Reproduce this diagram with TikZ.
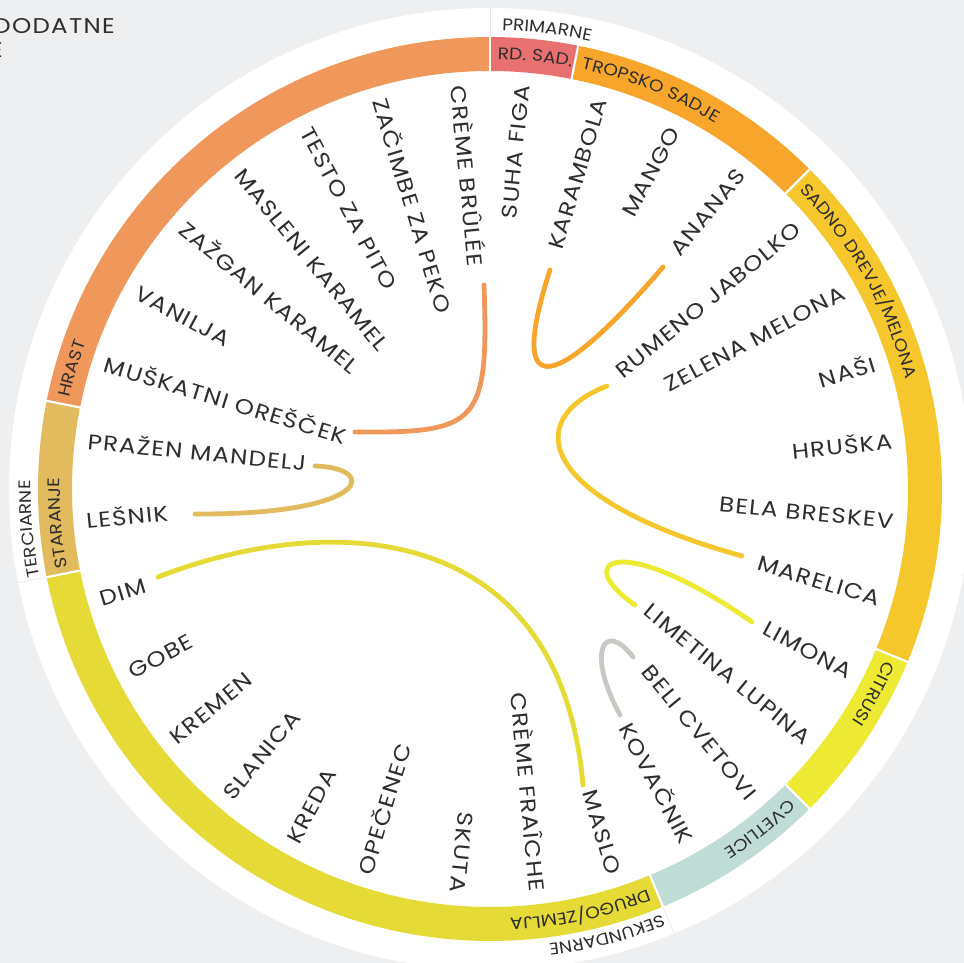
\documentclass[tikz,border=0pt]{standalone}
\usepackage{fontspec}
\setmainfont{Poppins}
\newfontfamily\labfont[FakeStretch=1.15,LetterSpace=6]{Poppins}
\newfontfamily\ringfont[FakeStretch=1.12,LetterSpace=4]{Poppins}
\usetikzlibrary{decorations.text}

\definecolor{bg}{HTML}{EEEFF1}
\definecolor{sepgray}{HTML}{E6E7E9}
\definecolor{ink}{HTML}{2E2E2E}
\definecolor{rdsad}{HTML}{E97070}
\definecolor{tropsko}{HTML}{F8A62B}
\definecolor{sadno}{HTML}{F6C72D}
\definecolor{citrusi}{HTML}{EEE932}
\definecolor{cvetlice}{HTML}{BFDCD7}
\definecolor{drugo}{HTML}{E6DB36}
\definecolor{staranje}{HTML}{E2BB5F}
\definecolor{hrast}{HTML}{F0985B}
\definecolor{cvetline}{HTML}{C9C9C4}

\begin{document}
\begin{tikzpicture}[x=0.75pt,y=0.75pt]
\tikzstyle{every node}=[inner sep=0pt, text=ink, font=\labfont\fontsize{16}{19}\selectfont]
\tikzstyle{rlab}=[anchor=base east]
\tikzstyle{llab}=[anchor=base west]
\tikzstyle{link}=[line width=3.6pt, line cap=round]
\tikzset{ringtxt/.style={decorate, decoration={text along path, text color=ink,
  text={|\ringfont\fontsize{12.5}{14}\selectfont|#1}}}}

\useasboundingbox (-490,-474) rectangle (474,489);
\clip (-490,-474) rectangle (474,489);
\fill[bg] (-490,-474) rectangle (474,489);
\fill[white] (0,0) circle (481);

% ring
\fill[rdsad] (90:418) arc[start angle=90, end angle=78.75, radius=418] -- (78.75:452) arc[start angle=78.75, end angle=90, radius=452] -- cycle;
\fill[tropsko] (78.75:418) arc[start angle=78.75, end angle=45, radius=418] -- (45:452) arc[start angle=45, end angle=78.75, radius=452] -- cycle;
\fill[sadno] (45:418) arc[start angle=45, end angle=-22.5, radius=418] -- (-22.5:452) arc[start angle=-22.5, end angle=45, radius=452] -- cycle;
\fill[citrusi] (-22.5:418) arc[start angle=-22.5, end angle=-45, radius=418] -- (-45:452) arc[start angle=-45, end angle=-22.5, radius=452] -- cycle;
\fill[cvetlice] (-45:418) arc[start angle=-45, end angle=-67.5, radius=418] -- (-67.5:452) arc[start angle=-67.5, end angle=-45, radius=452] -- cycle;
\fill[drugo] (-67.5:418) arc[start angle=-67.5, end angle=-168.75, radius=418] -- (-168.75:452) arc[start angle=-168.75, end angle=-67.5, radius=452] -- cycle;
\fill[staranje] (-168.75:418) arc[start angle=-168.75, end angle=-191.25, radius=418] -- (-191.25:452) arc[start angle=-191.25, end angle=-168.75, radius=452] -- cycle;
\fill[hrast] (-191.25:418) arc[start angle=-191.25, end angle=-270, radius=418] -- (-270:452) arc[start angle=-270, end angle=-191.25, radius=452] -- cycle;
\foreach \b in {90,78.75,45,-22.5,-45,-67.5,-168.75,168.75}
  \draw[white, line width=1.6pt] (\b:416) -- (\b:454);
\foreach \b in {90,-67.5,-168.75}
  \draw[sepgray, line width=0.5pt] (\b:453) -- (\b:481);

% ring and band labels
\path[ringtxt=RD. SAD.] (89:430) arc[start angle=89, end angle=20, radius=430];
\path[ringtxt=TROPSKO SADJE] (77.75:430) arc[start angle=77.75, end angle=0, radius=430];
\path[ringtxt=SADNO DREVJE/MELONA] (44:430) arc[start angle=44, end angle=-40, radius=430];
\path[ringtxt=CITRUSI] (-23.5:430) arc[start angle=-23.5, end angle=-90, radius=430];
\path[ringtxt=CVETLICE] (-46:430) arc[start angle=-46, end angle=-110, radius=430];
\path[ringtxt=DRUGO/ZEMLJA] (-68.5:430) arc[start angle=-68.5, end angle=-140, radius=430];
\path[ringtxt=STARANJE] (-169.5:430) arc[start angle=-169.5, end angle=-240, radius=430];
\path[ringtxt=HRAST] (-192.25:430) arc[start angle=-192.25, end angle=-260, radius=430];
\path[ringtxt=PRIMARNE] (88.5:459) arc[start angle=88.5, end angle=20, radius=459];
\path[ringtxt=SEKUNDARNE] (-68:459) arc[start angle=-68, end angle=-140, radius=459];
\path[ringtxt=TERCIARNE] (-169:459) arc[start angle=-169, end angle=-240, radius=459];

% leaves
\draw (84.375:405) node (l1) [rlab,rotate=84.375] {SUHA FIGA};
\draw (73.125:405) node (l2) [rlab,rotate=73.125] {KARAMBOLA};
\draw (61.875:405) node (l3) [rlab,rotate=61.875] {MANGO};
\draw (50.625:405) node (l4) [rlab,rotate=50.625] {ANANAS};
\draw (39.375:405) node (l5) [rlab,rotate=39.375] {RUMENO JABOLKO};
\draw (28.125:405) node (l6) [rlab,rotate=28.125] {ZELENA MELONA};
\draw (16.875:405) node (l7) [rlab,rotate=16.875] {NAŠI};
\draw (5.625:405) node (l8) [rlab,rotate=5.625] {HRUŠKA};
\draw (-5.625:405) node (l9) [rlab,rotate=-5.625] {BELA BRESKEV};
\draw (-16.875:405) node (l10) [rlab,rotate=-16.875] {MARELICA};
\draw (-28.125:405) node (l11) [rlab,rotate=-28.125] {LIMONA};
\draw (-39.375:405) node (l12) [rlab,rotate=-39.375] {LIMETINA LUPINA};
\draw (-50.625:405) node (l13) [rlab,rotate=-50.625] {BELI CVETOVI};
\draw (-61.875:405) node (l14) [rlab,rotate=-61.875] {KOVAČNIK};
\draw (-73.125:405) node (l15) [rlab,rotate=-73.125] {MASLO};
\draw (-84.375:405) node (l16) [rlab,rotate=-84.375] {CRÈME FRAÎCHE};
\draw (-95.625:405) node (l17) [rlab,rotate=-95.625] {SKUTA};
\draw (-106.875:405) node (l18) [llab,rotate=73.125] {OPEČENEC};
\draw (-118.125:405) node (l19) [llab,rotate=61.875] {KREDA};
\draw (-129.375:405) node (l20) [llab,rotate=50.625] {SLANICA};
\draw (-140.625:405) node (l21) [llab,rotate=39.375] {KREMEN};
\draw (-151.875:405) node (l22) [llab,rotate=28.125] {GOBE};
\draw (-163.125:405) node (l23) [llab,rotate=16.875] {DIM};
\draw (-174.375:405) node (l24) [llab,rotate=5.625] {LEŠNIK};
\draw (-185.625:405) node (l25) [llab,rotate=-5.625] {PRAŽEN MANDELJ};
\draw (-196.875:405) node (l26) [llab,rotate=-16.875] {MUŠKATNI OREŠČEK};
\draw (-208.125:405) node (l27) [llab,rotate=-28.125] {VANILJA};
\draw (-219.375:405) node (l28) [llab,rotate=-39.375] {ZAŽGAN KARAMEL};
\draw (-230.625:405) node (l29) [llab,rotate=-50.625] {MASLENI KARAMEL};
\draw (-241.875:405) node (l30) [llab,rotate=-61.875] {TESTO ZA PITO};
\draw (-253.125:405) node (l31) [llab,rotate=-73.125] {ZAČIMBE ZA PEKO};
\draw (-264.375:405) node (l32) [llab,rotate=-84.375] {CRÈME BRÛLÉE};

% title, cut by the page edge
\draw (-375,455) node (title) [anchor=base east] {E\hspace{-2pt} DODATNE};
\draw (-487,431) node (title2) [anchor=base east] {E};

% link ends
\coordinate (e32) at (-6,204);
\coordinate (e26) at (-135,57);
\coordinate (e2) at (60,219);
\coordinate (e4) at (173,222);
\coordinate (e5) at (117,103);
\coordinate (e10) at (252,-67);
\coordinate (e12) at (145,-116);
\coordinate (e11) at (262,-133);
\coordinate (e14) at (130,-226);
\coordinate (e13) at (143,-168);
\coordinate (e23) at (-332,-88);
\coordinate (e15) at (93,-296);
\coordinate (e25) at (-175,23);
\coordinate (e24) at (-295,-25);

% links
\draw[link,hrast] (e32) .. controls (-1,64) and (-12,56) .. (e26);
\draw[link,tropsko] (e2) .. controls (10,64) and (85,119) .. (e4);
\draw[link,sadno] (e5) .. controls (30,69) and (50,-11) .. (e10);
\draw[link,citrusi] (e12) .. controls (80,-71) and (130,-41) .. (e11);
\draw[link,cvetline] (e14) .. controls (95,-161) and (115,-131) .. (e13);
\draw[link,drugo] (e23) .. controls (-160,-21) and (70,-31) .. (e15);
\draw[link,staranje] (e25) .. controls (-110,21) and (-120,-26) .. (e24);
\end{tikzpicture}
\end{document}
